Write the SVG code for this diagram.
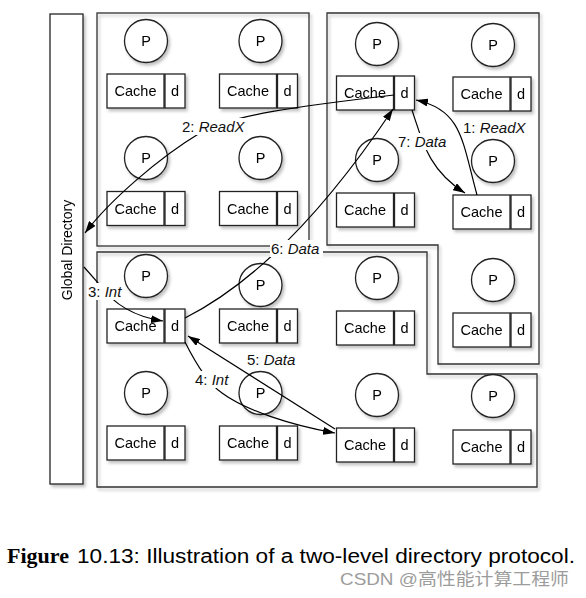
<svg xmlns="http://www.w3.org/2000/svg" width="586" height="598" viewBox="0 0 586 598">
<style>
.bx{fill:#fff;stroke:#222;stroke-width:1.3}
.cl{fill:none;stroke:#333;stroke-width:1.3}
.t{font-family:"Liberation Sans",Arial,sans-serif;font-size:14.5px;fill:#000;text-anchor:middle}
.gd{font-size:14px}
.lb{font-family:"Liberation Sans",Arial,sans-serif;font-size:15px;fill:#111}
.lb tspan.i{font-style:italic}
.bg{fill:#fff}
.cn{fill:none;stroke:#000;stroke-width:1.2;marker-end:url(#ah)}
.sh{filter:url(#ds)}
</style>
<defs>
<filter id="ds" x="-20%" y="-20%" width="150%" height="150%">
<feDropShadow dx="2" dy="2.5" stdDeviation="1.8" flood-color="#000" flood-opacity="0.25"/>
</filter>
<marker id="ah" markerUnits="userSpaceOnUse" markerWidth="12" markerHeight="8" refX="12" refY="4" orient="auto">
<path d="M0,0 L12,4 L0,8 z" fill="#000"/>
</marker>
</defs>
<rect width="586" height="598" fill="#fff"/>

<g id="clusters" class="sh">
<rect class="cl" x="97" y="13" width="212" height="233"/>
<path class="cl" d="M327,13 H539 V364 H438 V245 H327 Z"/>
<path class="cl" d="M97,252 H427 V374 H537 V487 H97 Z"/>
</g>

<g id="global-directory" class="sh">
<rect class="bx" x="50" y="14" width="33" height="470"/>
<text class="t gd" transform="translate(66.5,250) rotate(-90)" x="0" y="5">Global Directory</text>
</g>

<g id="n11" class="sh"><circle class="bx" cx="146" cy="41" r="21.5"/><text class="t" x="146" y="46">P</text><rect class="bx" x="107" y="74" width="57" height="34"/><text class="t" x="135.5" y="96">Cache</text><rect class="bx" x="165" y="74" width="20" height="34"/><text class="t" x="175" y="96">d</text></g>
<g id="n12" class="sh"><circle class="bx" cx="260.5" cy="41" r="21.5"/><text class="t" x="260.5" y="46">P</text><rect class="bx" x="219.5" y="74" width="57" height="34"/><text class="t" x="248" y="96">Cache</text><rect class="bx" x="277.5" y="74" width="20" height="34"/><text class="t" x="287.5" y="96">d</text></g>
<g id="n13" class="sh"><circle class="bx" cx="377" cy="44" r="21.5"/><text class="t" x="377" y="49">P</text><rect class="bx" x="336.5" y="76" width="57" height="34"/><text class="t" x="365" y="98">Cache</text><rect class="bx" x="394.5" y="76" width="20" height="34"/><text class="t" x="404.5" y="98">d</text></g>
<g id="n14" class="sh"><circle class="bx" cx="493" cy="45" r="21.5"/><text class="t" x="493" y="50">P</text><rect class="bx" x="453" y="77" width="57" height="34"/><text class="t" x="481.5" y="99">Cache</text><rect class="bx" x="511" y="77" width="20" height="34"/><text class="t" x="521" y="99">d</text></g>

<g id="n21" class="sh"><circle class="bx" cx="146" cy="158" r="21.5"/><text class="t" x="146" y="163">P</text><rect class="bx" x="107" y="191.5" width="57" height="34"/><text class="t" x="135.5" y="213.5">Cache</text><rect class="bx" x="165" y="191.5" width="20" height="34"/><text class="t" x="175" y="213.5">d</text></g>
<g id="n22" class="sh"><circle class="bx" cx="260.5" cy="158" r="21.5"/><text class="t" x="260.5" y="163">P</text><rect class="bx" x="219.5" y="191.5" width="57" height="34"/><text class="t" x="248" y="213.5">Cache</text><rect class="bx" x="277.5" y="191.5" width="20" height="34"/><text class="t" x="287.5" y="213.5">d</text></g>
<g id="n23" class="sh"><circle class="bx" cx="377" cy="160" r="21.5"/><text class="t" x="377" y="165">P</text><rect class="bx" x="336.5" y="193" width="57" height="34"/><text class="t" x="365" y="215">Cache</text><rect class="bx" x="394.5" y="193" width="20" height="34"/><text class="t" x="404.5" y="215">d</text></g>
<g id="n24" class="sh"><circle class="bx" cx="493" cy="161" r="21.5"/><text class="t" x="493" y="166">P</text><rect class="bx" x="453" y="195" width="57" height="34"/><text class="t" x="481.5" y="217">Cache</text><rect class="bx" x="511" y="195" width="20" height="34"/><text class="t" x="521" y="217">d</text></g>

<g id="n31" class="sh"><circle class="bx" cx="146" cy="276" r="21.5"/><text class="t" x="146" y="281">P</text><rect class="bx" x="107" y="309" width="57" height="34"/><text class="t" x="135.5" y="331">Cache</text><rect class="bx" x="165" y="309" width="20" height="34"/><text class="t" x="175" y="331">d</text></g>
<g id="n32" class="sh"><circle class="bx" cx="260.5" cy="285" r="21.5"/><text class="t" x="260.5" y="290">P</text><rect class="bx" x="219.5" y="309" width="57" height="34"/><text class="t" x="248" y="331">Cache</text><rect class="bx" x="277.5" y="309" width="20" height="34"/><text class="t" x="287.5" y="331">d</text></g>
<g id="n33" class="sh"><circle class="bx" cx="377" cy="278" r="21.5"/><text class="t" x="377" y="283">P</text><rect class="bx" x="336.5" y="311" width="57" height="34"/><text class="t" x="365" y="333">Cache</text><rect class="bx" x="394.5" y="311" width="20" height="34"/><text class="t" x="404.5" y="333">d</text></g>
<g id="n34" class="sh"><circle class="bx" cx="493" cy="280" r="21.5"/><text class="t" x="493" y="285">P</text><rect class="bx" x="453" y="313" width="57" height="34"/><text class="t" x="481.5" y="335">Cache</text><rect class="bx" x="511" y="313" width="20" height="34"/><text class="t" x="521" y="335">d</text></g>

<g id="n41" class="sh"><circle class="bx" cx="146" cy="393" r="21.5"/><text class="t" x="146" y="398">P</text><rect class="bx" x="107" y="426" width="57" height="34"/><text class="t" x="135.5" y="448">Cache</text><rect class="bx" x="165" y="426" width="20" height="34"/><text class="t" x="175" y="448">d</text></g>
<g id="n42" class="sh"><circle class="bx" cx="260.5" cy="393" r="21.5"/><text class="t" x="260.5" y="398">P</text><rect class="bx" x="219.5" y="426" width="57" height="34"/><text class="t" x="248" y="448">Cache</text><rect class="bx" x="277.5" y="426" width="20" height="34"/><text class="t" x="287.5" y="448">d</text></g>
<g id="n43" class="sh"><circle class="bx" cx="377" cy="395" r="21.5"/><text class="t" x="377" y="400">P</text><rect class="bx" x="336.5" y="428" width="57" height="34"/><text class="t" x="365" y="450">Cache</text><rect class="bx" x="394.5" y="428" width="20" height="34"/><text class="t" x="404.5" y="450">d</text></g>
<g id="n44" class="sh"><circle class="bx" cx="493" cy="396" r="21.5"/><text class="t" x="493" y="401">P</text><rect class="bx" x="453" y="430" width="57" height="34"/><text class="t" x="481.5" y="452">Cache</text><rect class="bx" x="511" y="430" width="20" height="34"/><text class="t" x="521" y="452">d</text></g>

<g id="connectors">
<path class="cn" d="M477,195 C462,140 462,110 416,100"/>
<path class="cn" d="M394,95 C300,106 230,115 200,133 C160,157 110,200 85,233"/>
<path class="cn" d="M84,267 L100,285 C112,302 130,316 163,321"/>
<path class="cn" d="M185,342 C198,368 210,385 222,393 C245,410 290,425 335,433"/>
<path class="cn" d="M335,429 L188,336"/>
<path class="cn" d="M185,318 Q288,266 393,109"/>
<path class="cn" d="M412,110 C422,140 428,170 465,193"/>
</g>

<g id="labels">
<text class="lb" x="463" y="133">1: <tspan class="i">ReadX</tspan></text>
<rect class="bg" x="181" y="118" width="65" height="17"/>
<text class="lb" x="182" y="132">2: <tspan class="i">ReadX</tspan></text>
<rect class="bg" x="87" y="283" width="35" height="17"/>
<text class="lb" x="88" y="297">3: <tspan class="i">Int</tspan></text>
<rect class="bg" x="194" y="371" width="35" height="17"/>
<text class="lb" x="195" y="385">4: <tspan class="i">Int</tspan></text>
<text class="lb" x="247" y="365">5: <tspan class="i">Data</tspan></text>
<rect class="bg" x="270" y="240" width="53" height="17"/>
<text class="lb" x="271" y="254">6: <tspan class="i">Data</tspan></text>
<rect class="bg" x="397" y="133" width="51" height="17"/>
<text class="lb" x="398" y="147">7: <tspan class="i">Data</tspan></text>
</g>

<g id="caption">
<text x="7" y="563" font-family="'Liberation Serif','Times New Roman',serif" font-size="22" font-weight="bold" fill="#000">Figure</text>
<text x="77" y="563" font-family="'Liberation Sans',Arial,sans-serif" font-size="20" fill="#000" textLength="498" lengthAdjust="spacingAndGlyphs">10.13: Illustration of a two-level directory protocol.</text>
<text x="340" y="585" font-family="'Liberation Sans','Noto Sans CJK SC',sans-serif" font-size="17" fill="#9c9c9c" textLength="229" lengthAdjust="spacingAndGlyphs">CSDN @高性能计算工程师</text>
</g>
</svg>
